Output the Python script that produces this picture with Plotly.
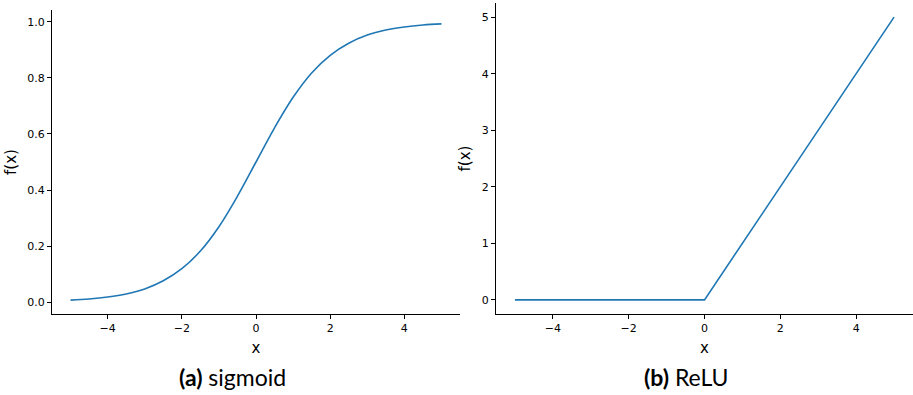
import plotly.graph_objects as go

# Sampled activation curves
sig_x = [-5.0, -4.5, -4.0, -3.5, -3.0, -2.5, -2.0, -1.5, -1.0, -0.5, 0.0,
         0.5, 1.0, 1.5, 2.0, 2.5, 3.0, 3.5, 4.0, 4.5, 5.0]
sig_y = [0.007, 0.011, 0.018, 0.029, 0.047, 0.076, 0.119, 0.182, 0.269, 0.378, 0.500,
         0.622, 0.731, 0.818, 0.881, 0.924, 0.953, 0.971, 0.982, 0.989, 0.993]

relu_x = [-5.0, 0.0, 5.0]
relu_y = [0.0, 0.0, 5.0]

x_ticks = [-4, -2, 0, 2, 4]
sig_ticks = [0.0, 0.2, 0.4, 0.6, 0.8, 1.0]
relu_ticks = [0, 1, 2, 3, 4, 5]

captions = ["<b>(a)</b> sigmoid", "<b>(b)</b> ReLU"]

W, H = 913, 395
LINE = "#1f77b4"
TICK_FONT = dict(family="DejaVu Sans", size=11, color="black")
TITLE_FONT = dict(family="DejaVu Sans", size=15, color="black")

fig = go.Figure()
fig.add_trace(go.Scatter(x=sig_x, y=sig_y, mode="lines", line=dict(color=LINE, width=1.6, shape="spline"),
                         xaxis="x", yaxis="y", showlegend=False))
fig.add_trace(go.Scatter(x=relu_x, y=relu_y, mode="lines", line=dict(color=LINE, width=1.6),
                         xaxis="x2", yaxis="y2", showlegend=False))

axis_common = dict(showgrid=False, zeroline=False, showline=True, linecolor="black", linewidth=1,
                   ticks="outside", ticklen=4, tickwidth=1, tickcolor="black", tickfont=TICK_FONT,
                   mirror=False)

def px(v):
    return v / W

def py(v):
    return 1 - v / H

fig.update_layout(
    width=W, height=H,
    margin=dict(l=0, r=0, t=0, b=0),
    plot_bgcolor="white", paper_bgcolor="white",
    xaxis=dict(domain=[px(52), px(460)], range=[-5.5, 5.5], tickvals=x_ticks, anchor="y",
               title=dict(text="x", font=TITLE_FONT, standoff=8), **axis_common),
    yaxis=dict(domain=[py(314), py(10)], range=[-0.0426, 1.0426], tickvals=sig_ticks, tickformat=".1f",
               anchor="x", title=dict(text="f(x)", font=TITLE_FONT, standoff=7), **axis_common),
    xaxis2=dict(domain=[px(496), 1.0], range=[-5.5, 5.5], tickvals=x_ticks, anchor="y2",
                title=dict(text="x", font=TITLE_FONT, standoff=8), **axis_common),
    yaxis2=dict(domain=[py(314), py(3)], range=[-0.25, 5.25], tickvals=relu_ticks,
                anchor="x2", title=dict(text="f(x)", font=TITLE_FONT, standoff=7), **axis_common),
)

for cx, text in zip([232, 686], captions):
    fig.add_annotation(x=px(cx), y=py(377), xref="paper", yref="paper", text=text, showarrow=False,
                       xanchor="center", yanchor="middle",
                       font=dict(family="Lato", size=23, color="black"))

fig.write_html("out.html")
